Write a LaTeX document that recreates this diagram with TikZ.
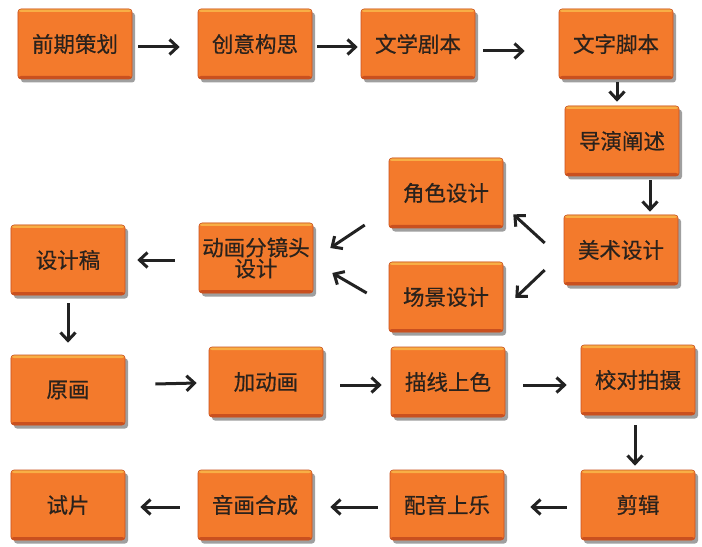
\documentclass[tikz,border=0pt]{standalone}
\usepackage{fontspec}
\newfontfamily\cjk[FakeBold=0.6]{Noto Sans CJK SC}
\usetikzlibrary{arrows.meta,shadows,calc}
\definecolor{boxfill}{HTML}{F37A2C}
\definecolor{boxtop}{HTML}{F8AE45}
\definecolor{boxbot}{HTML}{C9501F}
\definecolor{txt}{HTML}{2A221C}
\definecolor{arr}{HTML}{222222}
\begin{document}
\begin{tikzpicture}[x=1bp,y=-1bp,
  box/.style={rounded corners=3bp, fill=boxfill, draw=boxbot, line width=0.6bp,
    minimum width=114bp, minimum height=70bp, inner sep=1bp, align=center,
    text=txt, font=\cjk\fontsize{21.5bp}{25bp}\selectfont,
    drop shadow={shadow xshift=3bp, shadow yshift=-3.5bp, opacity=0.5, fill=black!75},
    path picture={
      \fill[boxtop] (path picture bounding box.north west) rectangle ([yshift=-3bp]path picture bounding box.north east);
      \fill[boxbot] (path picture bounding box.south west) rectangle ([yshift=3bp]path picture bounding box.south east);
    }},
  arrw/.style={draw=arr, line width=3bp, -{Straight Barb[length=8bp,width=15bp,line width=3bp]}}
]
\useasboundingbox (0,0) rectangle (702,547);
\fill[white] (0,0) rectangle (702,547);

\node[box] (n1) at (75,44) {前期策划};
\node[box] (n2) at (255,44) {创意构思};
\node[box] (n3) at (418,44) {文学剧本};
\node[box] (n4) at (616,44) {文字脚本};
\node[box] (n5) at (622,141) {导演阐述};
\node[box] (n6) at (621,250) {美术设计};
\node[box] (n7) at (446,193) {角色设计};
\node[box] (n8) at (446,297) {场景设计};
\node[box] (n9) at (256,258) {动画分镜头\\[-4bp]设计};
\node[box] (n10) at (68,260) {设计稿};
\node[box] (n11) at (68,390) {原画};
\node[box] (n12) at (266,382) {加动画};
\node[box] (n13) at (448,382) {描线上色};
\node[box] (n14) at (638,380) {校对拍摄};
\node[box] (n15) at (638,505) {剪辑};
\node[box] (n16) at (447,505) {配音上乐};
\node[box] (n17) at (255,505) {音画合成};
\node[box] (n18) at (68,505) {试片};

\draw[arrw] ([shift={(6,3)}]n1.east) -- ([shift={(-18,3)}]n2.west);
\draw[arrw] ([shift={(5,3)}]n2.east) -- ([shift={(-3,3)}]n3.west);
\draw[arrw] ([shift={(8,7)}]n3.east) -- ([shift={(-34,7)}]n4.west);
\draw[arrw] ([shift={(1,3)}]n4.south) -- ([shift={(-5,-4)}]n5.north);
\draw[arrw] ([shift={(28,4)}]n5.south) -- ([shift={(29,-3)}]n6.north);
\draw[arrw] ([shift={(-19,-7)}]n6.west) -- ([shift={(10,-14)}]n7.south east);
\draw[arrw] ([shift={(-19,20)}]n6.west) -- ([shift={(12,1)}]n8.east);
\draw[arrw] ([shift={(-24,32)}]n7.west) -- ([shift={(17,-10)}]n9.east);
\draw[arrw] ([shift={(-22,-4)}]n8.west) -- ([shift={(19,15)}]n9.east);
\draw[arrw] ([shift={(-24,2)}]n9.west) -- ([shift={(12,0)}]n10.east);
\draw[arrw] ([shift={(0,8)}]n10.south) -- ([shift={(0,-12)}]n11.north);
\draw[arrw] ([shift={(30,-6)}]n11.east) -- ([shift={(-12,1)}]n12.west);
\draw[arrw] ([shift={(17,3)}]n12.east) -- ([shift={(-9,3)}]n13.west);
\draw[arrw] ([shift={(18,3)}]n13.east) -- ([shift={(-14,5)}]n14.west);
\draw[arrw] ([shift={(-3,10)}]n14.south) -- ([shift={(-3,-4)}]n15.north);
\draw[arrw] ([shift={(-14,2)}]n15.west) -- ([shift={(26,2)}]n16.east);
\draw[arrw] ([shift={(-12,2)}]n16.west) -- ([shift={(18,2)}]n17.east);
\draw[arrw] ([shift={(-18,2)}]n17.west) -- ([shift={(15,2)}]n18.east);
\end{tikzpicture}
\end{document}
